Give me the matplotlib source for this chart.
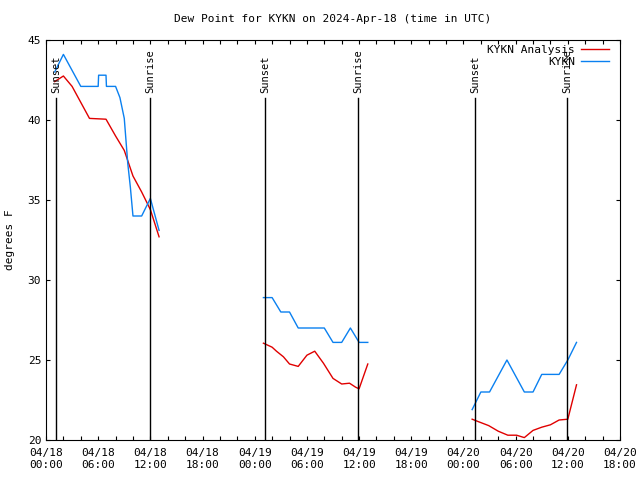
# Dew point chart for KYKN

import numpy as np
import matplotlib
matplotlib.use('Agg')
import matplotlib.pyplot as plt

# hours since 2024-04-18 00:00 UTC, values in degrees F
obs_hours = [
    [1.0, 2.0, 4.0, 6.0, 6.05, 6.9, 6.95, 8.0, 8.5, 9.0, 9.4, 9.7, 10.0, 11.0, 12.0, 13.0],
    [25.0, 26.0, 27.0, 28.0, 29.0, 30.0, 31.0, 32.0, 33.0, 34.0, 35.0, 36.0, 37.0],
    [49.0, 50.0, 51.0, 52.0, 53.0, 54.0, 55.0, 56.0, 57.0, 58.0, 59.0, 60.0, 61.0],
]
obs_dewp = [
    [43.0, 44.1, 42.1, 42.1, 42.8, 42.8, 42.1, 42.1, 41.4, 40.1, 37.3, 35.8, 34.0, 34.0, 35.1, 33.1],
    [28.9, 28.9, 28.0, 28.0, 27.0, 27.0, 27.0, 27.0, 26.1, 26.1, 27.0, 26.1, 26.1],
    [21.9, 23.0, 23.0, 24.0, 25.0, 24.0, 23.0, 23.0, 24.1, 24.1, 24.1, 25.0, 26.1],
]
ana_hours = [
    [1.0, 2.0, 3.0, 4.0, 5.0, 6.9, 8.0, 9.0, 10.0, 11.0, 12.0, 13.0],
    [25.0, 26.0, 26.5, 27.3, 28.0, 29.0, 30.0, 30.9, 31.9, 33.0, 34.0, 34.9, 35.6, 36.0, 37.0],
    [49.0, 49.7, 50.9, 52.0, 53.1, 54.1, 55.0, 56.0, 57.0, 58.0, 59.0, 60.0, 61.0],
]
ana_dewp = [
    [42.4, 42.75, 42.1, 41.1, 40.1, 40.05, 39.0, 38.1, 36.5, 35.5, 34.4, 32.7],
    [26.05, 25.8, 25.55, 25.2, 24.75, 24.6, 25.3, 25.55, 24.8, 23.85, 23.5, 23.55, 23.3, 23.2, 24.75],
    [21.3, 21.15, 20.9, 20.55, 20.3, 20.3, 20.15, 20.6, 20.8, 20.95, 21.25, 21.3, 23.45],
]
sun_hours = [1.2, 12.0, 25.2, 35.9, 49.3, 59.9]
sun_labels = ['Sunset', 'Sunrise', 'Sunset', 'Sunrise', 'Sunset', 'Sunrise']
tick_hours = [0, 6, 12, 18, 24, 30, 36, 42, 48, 54, 60, 66]
tick_labels = ['04/18\n00:00', '04/18\n06:00', '04/18\n12:00', '04/18\n18:00',
               '04/19\n00:00', '04/19\n06:00', '04/19\n12:00', '04/19\n18:00',
               '04/20\n00:00', '04/20\n06:00', '04/20\n12:00', '04/20\n18:00']

plt.rcParams['font.family'] = ['DejaVu Sans Mono', 'DejaVu Sans']
plt.rcParams['font.size'] = 8

fig = plt.figure(figsize=(6.4, 4.8), dpi=100)
ax = fig.add_axes([46/640, 40/480, 574/640, 400/480])

red = '#e00000'
blue = '#0a80f0'

for h, d in zip(ana_hours, ana_dewp):
    ax.plot(h, d, color=red, lw=1)
for h, d in zip(obs_hours, obs_dewp):
    ax.plot(h, d, color=blue, lw=1)

# sunrise / sunset markers
for h, lab in zip(sun_hours, sun_labels):
    ax.plot([h, h], [20, 41.4], color='black', lw=1)
    ax.text(h, 41.7, lab, rotation=90, ha='center', va='bottom', fontsize=7.5)

ax.set_xlim(0, 66)
ax.set_ylim(20, 45)
ax.set_xticks(tick_hours)
ax.set_xticklabels(tick_labels)
ax.set_xticks(np.arange(0, 67, 2), minor=True)
ax.set_yticks([20, 25, 30, 35, 40, 45])
ax.tick_params(which='both', direction='in', top=True, right=True, length=3, width=0.8)
ax.tick_params(axis='x', pad=6)
for s in ax.spines.values():
    s.set_linewidth(0.8)

ax.set_ylabel('degrees F', labelpad=9)
ax.set_title('Dew Point for KYKN on 2024-Apr-18 (time in UTC)', fontsize=8, pad=13)

# legend drawn by hand, right aligned like the original
ax.text(0.9216, 0.975, 'KYKN Analysis', transform=ax.transAxes, ha='right', va='center')
ax.plot([0.932, 0.981], [0.978, 0.978], transform=ax.transAxes, color=red, lw=1)
ax.text(0.9216, 0.945, 'KYKN', transform=ax.transAxes, ha='right', va='center')
ax.plot([0.932, 0.981], [0.948, 0.948], transform=ax.transAxes, color=blue, lw=1)

plt.savefig('out.png', dpi=100)
